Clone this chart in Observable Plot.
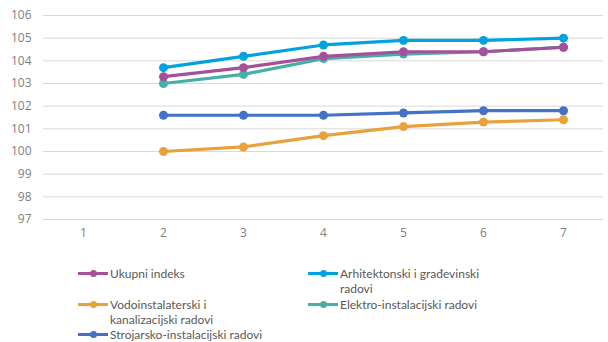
<!DOCTYPE html>
<html><head><meta charset="utf-8">
<script src="https://cdn.jsdelivr.net/npm/d3@7"></script>
<script src="https://cdn.jsdelivr.net/npm/@observablehq/plot@0.6"></script>
<style>
body{margin:0;background:#fff;font-family:"Open Sans",sans-serif;}
#wrap{position:relative;width:608px;height:342px;overflow:hidden;}
.leg{position:absolute;font-family:Lato,sans-serif;font-size:12px;color:#595959;line-height:15px;}
.sw{position:absolute;left:0;top:6px;width:30px;height:3px;}
.sw i{position:absolute;left:12px;top:-2px;width:7px;height:7px;border-radius:50%;}
.lt{position:absolute;left:32px;top:0;white-space:nowrap;}
</style></head>
<body><div id="wrap"><div id="chart"></div></div>
<script>
const periods = [1,2,3,4,5,6,7];
const seriesNames = ["Ukupni indeks","Arhitektonski i građevinski radovi","Vodoinstalaterski i kanalizacijski radovi","Elektro-instalacijski radovi","Strojarsko-instalacijski radovi"];
const colors = ["#A5509A","#00A3E0","#E9A23B","#45B0A8","#4472C4"];
const ukupni = [null,103.3,103.7,104.2,104.4,104.4,104.6];
const arhitektonski = [null,103.7,104.2,104.7,104.9,104.9,105.0];
const vodo = [null,100.0,100.2,100.7,101.1,101.3,101.4];
const elektro = [null,103.0,103.4,104.1,104.3,104.4,104.6];
const strojarsko = [null,101.6,101.6,101.6,101.7,101.8,101.8];
const yTicks = [97,98,99,100,101,102,103,104,105,106];

const valuesBySeries = [ukupni, arhitektonski, vodo, elektro, strojarsko];
const drawOrder = [2,4,3,0,1];
const data = [];
for (const s of drawOrder) periods.forEach((p,i)=>{ if (valuesBySeries[s][i]!=null) data.push({series:seriesNames[s], x:p, y:valuesBySeries[s][i]}); });

const chart = Plot.plot({
  width:608, height:250,
  marginTop:15, marginBottom:31, marginLeft:43, marginRight:5,
  style:{fontFamily:"Open Sans, sans-serif", fontSize:"12px", color:"#808080", background:"#fff"},
  x:{type:"band", domain:periods, padding:0, label:null, tickSize:0, tickPadding:9},
  y:{domain:[97,106], ticks:yTicks, label:null, tickSize:0, tickPadding:12, tickFormat:d=>String(d)},
  color:{domain:seriesNames, range:colors},
  marks:[
    Plot.gridY(yTicks,{stroke:"#d9d9d9", strokeOpacity:1, strokeWidth:1}),
    Plot.axisX({tickSize:0, tickPadding:9, fill:"#808080"}),
    Plot.axisY({ticks:yTicks, tickSize:0, tickPadding:12, fill:"#808080"}),
    Plot.line(data,{x:"x", y:"y", z:"series", stroke:"series", strokeWidth:3.2, curve:"linear"}),
    Plot.dot(data,{x:"x", y:"y", fill:"series", r:4.5})
  ]
});
document.getElementById("chart").appendChild(chart);

const legendPos = [
  {left:78, top:266, text:"Ukupni indeks"},
  {left:308, top:266, text:"Arhitektonski i građevinski<br>radovi"},
  {left:78, top:297, text:"Vodoinstalaterski i<br>kanalizacijski radovi"},
  {left:308, top:297, text:"Elektro-instalacijski radovi"},
  {left:78, top:327, text:"Strojarsko-instalacijski radovi"}
];
const wrap = document.getElementById("wrap");
seriesNames.forEach((n,i)=>{
  const d = document.createElement("div");
  d.className="leg";
  d.style.left=legendPos[i].left+"px"; d.style.top=legendPos[i].top+"px";
  d.innerHTML = `<div class="sw" style="background:${colors[i]}"><i style="background:${colors[i]}"></i></div><div class="lt">${legendPos[i].text}</div>`;
  wrap.appendChild(d);
});
</script></body></html>
